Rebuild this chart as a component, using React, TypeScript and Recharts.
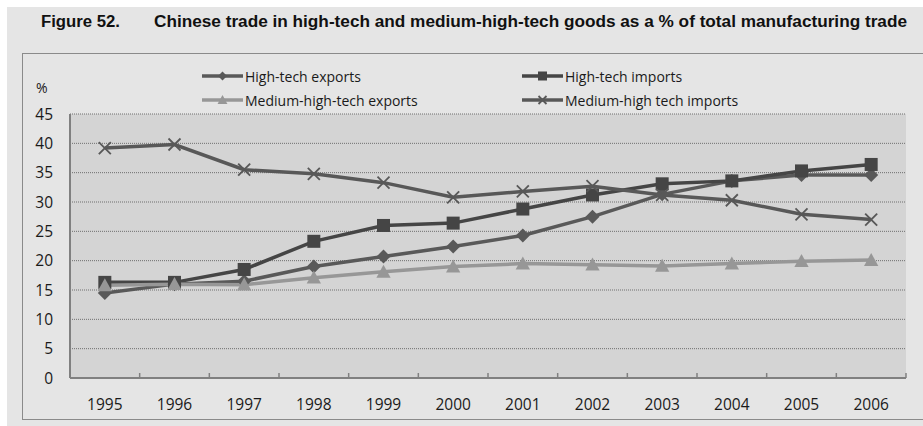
import React from 'react';
import { LineChart, Line, XAxis, YAxis, CartesianGrid, Legend } from 'recharts';

const years = ['1995', '1996', '1997', '1998', '1999', '2000', '2001', '2002', '2003', '2004', '2005', '2006'];
const highTechExports = [14.5, 16.0, 16.5, 19.0, 20.7, 22.4, 24.3, 27.5, 31.3, 33.6, 34.6, 34.6];
const highTechImports = [16.3, 16.3, 18.5, 23.3, 26.0, 26.4, 28.8, 31.2, 33.1, 33.6, 35.3, 36.4];
const medHighExports = [15.8, 16.0, 15.9, 17.1, 18.1, 19.0, 19.5, 19.3, 19.1, 19.5, 19.9, 20.1];
const medHighImports = [39.2, 39.8, 35.5, 34.8, 33.3, 30.8, 31.8, 32.7, 31.2, 30.3, 27.9, 27.0];
const yTicks = [0, 5, 10, 15, 20, 25, 30, 35, 40, 45];

type Shape = 'diamond' | 'square' | 'triangle' | 'cross';

const series: { key: string; name: string; color: string; shape: Shape; r: number }[] = [
  { key: 'hte', name: 'High-tech exports', color: '#595959', shape: 'diamond', r: 7 },
  { key: 'hti', name: 'High-tech imports', color: '#454545', shape: 'square', r: 6.5 },
  { key: 'mhe', name: 'Medium-high-tech exports', color: '#979797', shape: 'triangle', r: 6.5 },
  { key: 'mhi', name: 'Medium-high tech imports', color: '#585858', shape: 'cross', r: 6 },
];

const data = years.map((year, i) => ({
  year,
  hte: highTechExports[i],
  hti: highTechImports[i],
  mhe: medHighExports[i],
  mhi: medHighImports[i],
}));

const FONT = '"Open Sans", "Noto Sans", sans-serif';

// marker glyph, r = half size
const Marker = ({ shape, cx, cy, r, color }: { shape: Shape; cx: number; cy: number; r: number; color: string }) => {
  if (shape === 'diamond') {
    return <polygon points={`${cx},${cy - r} ${cx + r},${cy} ${cx},${cy + r} ${cx - r},${cy}`} fill={color} />;
  }
  if (shape === 'square') {
    return <rect x={cx - r} y={cy - r} width={r * 2} height={r * 2} fill={color} />;
  }
  if (shape === 'triangle') {
    return <polygon points={`${cx},${cy - r * 1.1} ${cx + r * 1.1},${cy + r * 0.9} ${cx - r * 1.1},${cy + r * 0.9}`} fill={color} />;
  }
  return (
    <g stroke={color} strokeWidth={1.8}>
      <line x1={cx - r} y1={cy - r} x2={cx + r} y2={cy + r} />
      <line x1={cx - r} y1={cy + r} x2={cx + r} y2={cy - r} />
    </g>
  );
};

const XTick = (props: any) => {
  const { x, y, payload, index, visibleTicksCount } = props;
  const half = payload.offset ?? 0;
  const axisY = y - 21;
  return (
    <g>
      <text x={x} y={y} dy="0.71em" textAnchor="middle" fill="#1a1a1a" fontSize={15.5} fontFamily={FONT}>
        {payload.value}
      </text>
      {index > 0 && <line x1={x - half} x2={x - half} y1={axisY} y2={axisY - 5} stroke="#808080" strokeWidth={1.5} />}
      {index === visibleTicksCount - 1 && (
        <line x1={x + half} x2={x + half} y1={axisY} y2={axisY - 5} stroke="#808080" strokeWidth={1.5} />
      )}
    </g>
  );
};

const LegendContent = ({ payload }: any) => {
  const items = [...(payload || [])].sort(
    (a: any, b: any) => series.findIndex((s) => s.key === a.dataKey) - series.findIndex((s) => s.key === b.dataKey)
  );
  return (
    <div style={{ display: 'grid', gridTemplateColumns: '320px 260px', rowGap: 4 }}>
      {items.map((p: any) => {
        const s = series.find((d) => d.key === p.dataKey)!;
        return (
          <div key={s.key} style={{ display: 'flex', alignItems: 'center', height: 20 }}>
            <svg width={42} height={14} style={{ marginRight: 1 }}>
              <line x1={0} x2={41} y1={7} y2={7} stroke={s.color} strokeWidth={3.5} />
              <Marker shape={s.shape} cx={20.5} cy={7} r={s.shape === 'cross' ? 4 : 4.5} color={s.color} />
            </svg>
            <span style={{ fontFamily: FONT, fontSize: 14, color: '#1a1a1a', whiteSpace: 'nowrap' }}>{s.name}</span>
          </div>
        );
      })}
    </div>
  );
};

export default function App() {
  return (
    <div style={{ position: 'absolute', left: 0, top: 0, width: 923, height: 426, background: '#fff', overflow: 'hidden' }}>
      <div style={{ position: 'absolute', left: 7, top: 7, right: 0, bottom: 0, background: '#e5e5e5' }} />
      <svg style={{ position: 'absolute', left: 0, top: 0 }} width={923} height={50}>
        <text x={41} y={27} fontFamily='"Liberation Sans", Arial, sans-serif' fontWeight="bold" fontSize={16} fill="#111" textLength={79} lengthAdjust="spacingAndGlyphs">
          Figure 52.
        </text>
        <text x={154} y={27} fontFamily='"Liberation Sans", Arial, sans-serif' fontWeight="bold" fontSize={16} fill="#111" textLength={753} lengthAdjust="spacingAndGlyphs">
          Chinese trade in high-tech and medium-high-tech goods as a % of total manufacturing trade
        </text>
      </svg>
      <div style={{ position: 'absolute', left: 22, top: 53, width: 920, height: 365, border: '1.5px solid #8a8a8a' }} />
      <div style={{ position: 'absolute', left: 36, top: 78, fontFamily: FONT, fontSize: 14, color: '#1a1a1a' }}>%</div>
      <div style={{ position: 'absolute', left: 0, top: 0 }}>
        <LineChart width={923} height={426} data={data} margin={{ top: 114, right: 17, bottom: 0, left: 30 }}>
          <CartesianGrid horizontal vertical={false} fill="#d4d4d4" stroke="#6f6f6f" strokeDasharray="1 1" />
          <XAxis
            dataKey="year"
            scale="band"
            height={48}
            axisLine={{ stroke: '#808080', strokeWidth: 2 }}
            tickLine={false}
            tickSize={0}
            tickMargin={21}
            tick={<XTick />}
            interval={0}
          />
          <YAxis
            width={40}
            domain={[0, 45]}
            ticks={yTicks}
            interval={0}
            axisLine={{ stroke: '#808080', strokeWidth: 2 }}
            tickLine={false}
            tickSize={0}
            tickMargin={17}
            tick={{ fill: '#1a1a1a', fontSize: 15.5, fontFamily: FONT }}
          />
          <Legend
            layout="horizontal"
            verticalAlign="middle"
            content={<LegendContent />}
            wrapperStyle={{ position: 'absolute', top: 66, left: 202, width: 620, height: 50 }}
          />
          {series.map((s) => (
            <Line
              key={s.key}
              type="linear"
              dataKey={s.key}
              name={s.name}
              stroke={s.color}
              strokeWidth={3.5}
              isAnimationActive={false}
              activeDot={false}
              dot={(p: any) => (
                <g key={`${s.key}-${p.index}`}>
                  <Marker shape={s.shape} cx={p.cx} cy={p.cy} r={s.r} color={s.color} />
                </g>
              )}
            />
          ))}
        </LineChart>
      </div>
    </div>
  );
}
